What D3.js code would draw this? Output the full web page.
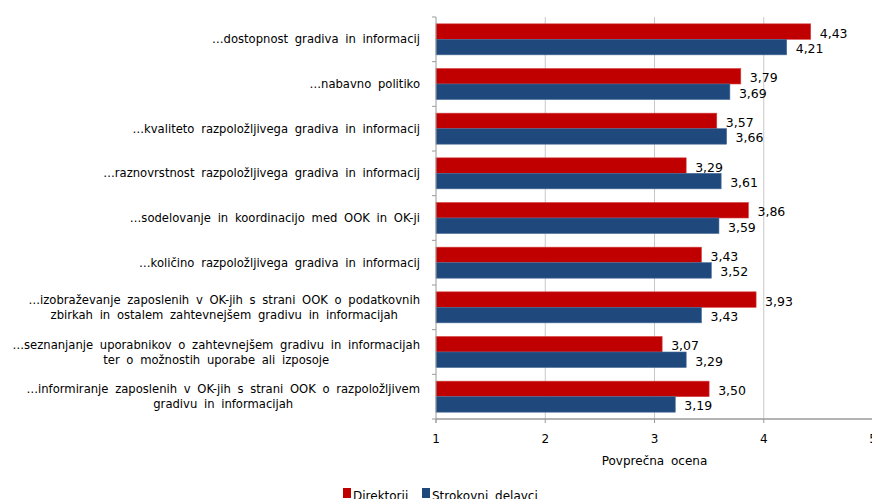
<!DOCTYPE html>
<html lang="en">
<head>
    <meta charset="UTF-8">
    <title>Povprečna ocena</title>
    <script src="https://d3js.org/d3.v7.min.js"></script>
    <style>
        body { margin: 0; background: #fff; }
        svg text { font-family: "DejaVu Sans", Verdana, sans-serif; fill: #000; }
        .cat { font-size: 11.6px; word-spacing: 3px; }
        .val { font-size: 12.5px; }
        .tick-label { font-size: 12px; }
    </style>
</head>
<body>
    <div id="chart"></div>
    <script>
        // categories (each line of a label is one entry)
        const categories = [
            ["…dostopnost gradiva in informacij"],
            ["…nabavno politiko"],
            ["…kvaliteto razpoložljivega gradiva in informacij"],
            ["…raznovrstnost razpoložljivega gradiva in informacij"],
            ["…sodelovanje in koordinacijo med OOK in OK-ji"],
            ["…količino razpoložljivega gradiva in informacij"],
            ["…izobraževanje zaposlenih v OK-jih s strani OOK o podatkovnih", "zbirkah in ostalem zahtevnejšem gradivu in informacijah"],
            ["…seznanjanje uporabnikov o zahtevnejšem gradivu in informacijah", "ter o možnostih uporabe ali izposoje"],
            ["…informiranje zaposlenih v OK-jih s strani OOK o razpoložljivem", "gradivu in informacijah"]
        ];
        const direktorji = [4.43, 3.79, 3.57, 3.29, 3.86, 3.43, 3.93, 3.07, 3.50];
        const strokovni = [4.21, 3.69, 3.66, 3.61, 3.59, 3.52, 3.43, 3.29, 3.19];
        const seriesNames = ["Direktorij", "Strokovni delavci"];
        const colors = ["#C00000", "#1F497D"];
        const xTicks = [1, 2, 3, 4, 5];

        const width = 872, height = 499;
        const plotLeft = 436, plotRight = 873, plotTop = 17, plotBottom = 419;

        const svg = d3.select("#chart").append("svg")
            .attr("width", width).attr("height", height);

        const x = d3.scaleLinear().domain([1, 5]).range([plotLeft, plotRight]);
        const y = d3.scaleBand().domain(d3.range(categories.length)).range([plotTop, plotBottom]).paddingInner(0).paddingOuter(0);
        const inner = d3.scaleBand().domain([0, 1]).range([0, y.bandwidth()]).paddingOuter(0.44).paddingInner(0);

        // gridlines
        svg.append("g").selectAll("line")
            .data(xTicks.slice(1))
            .enter().append("line")
            .attr("x1", d => x(d)).attr("x2", d => x(d))
            .attr("y1", plotTop).attr("y2", plotBottom)
            .attr("stroke", "#c8c8c8").attr("stroke-width", 1);

        // bars
        const data = categories.map((c, i) => ({ i, vals: [direktorji[i], strokovni[i]] }));
        const groups = svg.append("g").selectAll("g")
            .data(data).enter().append("g")
            .attr("transform", d => `translate(0,${y(d.i)})`);

        groups.selectAll("rect")
            .data(d => d.vals.map((v, s) => ({ v, s })))
            .enter().append("rect")
            .attr("x", x(1))
            .attr("y", d => inner(d.s))
            .attr("width", d => x(d.v) - x(1))
            .attr("height", inner.bandwidth())
            .attr("fill", d => colors[d.s])
            .attr("stroke", d => d.s === 0 ? "#d64545" : "#4a6d9a")
            .attr("stroke-width", 0.6);

        groups.selectAll("text")
            .data(d => d.vals.map((v, s) => ({ v, s })))
            .enter().append("text")
            .attr("class", "val")
            .attr("x", d => x(d.v) + 9)
            .attr("y", d => inner(d.s) + inner.bandwidth() / 2 + 6)
            .text(d => d.v.toFixed(2).replace(".", ","));

        // axes lines
        svg.append("line")
            .attr("x1", plotLeft).attr("x2", plotLeft).attr("y1", plotTop).attr("y2", plotBottom + 4)
            .attr("stroke", "#9a9a9a");
        svg.append("line")
            .attr("x1", plotLeft).attr("x2", width).attr("y1", plotBottom).attr("y2", plotBottom)
            .attr("stroke", "#9a9a9a").attr("stroke-width", 1.5);

        // category tick marks
        svg.append("g").selectAll("line")
            .data(d3.range(categories.length + 1))
            .enter().append("line")
            .attr("x1", plotLeft - 4).attr("x2", plotLeft)
            .attr("y1", d => plotTop + d * y.step()).attr("y2", d => plotTop + d * y.step())
            .attr("stroke", "#9a9a9a");

        // x tick marks + labels
        svg.append("g").selectAll("line")
            .data(xTicks).enter().append("line")
            .attr("x1", d => x(d)).attr("x2", d => x(d))
            .attr("y1", plotBottom).attr("y2", plotBottom + 4)
            .attr("stroke", "#9a9a9a");
        svg.append("g").selectAll("text")
            .data(xTicks).enter().append("text")
            .attr("class", "tick-label")
            .attr("x", d => x(d)).attr("y", plotBottom + 24)
            .attr("text-anchor", "middle")
            .text(d => d);

        svg.append("text")
            .attr("class", "tick-label")
            .attr("x", x(3)).attr("y", plotBottom + 46)
            .attr("text-anchor", "middle")
            .style("word-spacing", "3px")
            .text("Povprečna ocena");

        // category labels
        categories.forEach((lines, i) => {
            const cy = y(i) + y.bandwidth() / 2;
            const lh = 15;
            const g = svg.append("g");
            const texts = lines.map((t, k) => g.append("text")
                .attr("class", "cat")
                .attr("y", cy + (k - (lines.length - 1) / 2) * lh + 4)
                .attr("text-anchor", "middle")
                .text(t));
            const maxW = d3.max(texts, t => t.node().getComputedTextLength());
            texts.forEach(t => t.attr("x", 420 - maxW / 2));
        });

        // legend
        const legend = svg.append("g").attr("transform", "translate(343,488)");
        const lx = [0, 79];
        seriesNames.forEach((n, s) => {
            legend.append("rect").attr("x", lx[s]).attr("y", 0)
                .attr("width", 8).attr("height", 10).attr("fill", colors[s]);
            legend.append("text").attr("class", "tick-label")
                .attr("x", lx[s] + 10).attr("y", 12)
                .style("word-spacing", "3px")
                .text(n);
        });
    </script>
</body>
</html>
